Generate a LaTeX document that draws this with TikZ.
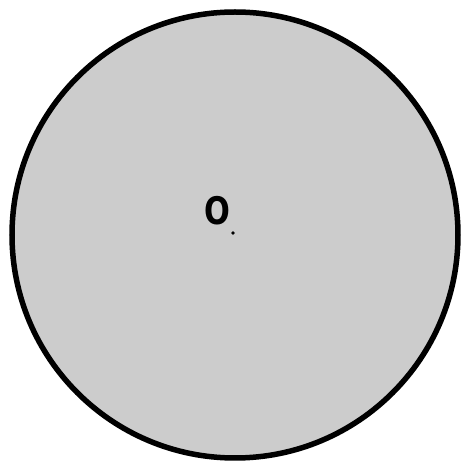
\documentclass[tikz,border=0pt]{standalone}
\usepackage{fontspec}
\setmainfont{DejaVu Sans}
\usetikzlibrary{positioning}
\definecolor{disc}{gray}{0.8}
\tikzset{centrelabel/.style={inner sep=0pt, xscale=0.8, font=\fontsize{38}{38}\selectfont\bfseries}}

\begin{document}
\begin{tikzpicture}[x=1pt,y=1pt]
    \useasboundingbox (0,0) rectangle (464,461);
    % Disc with centre O
    \coordinate (centre) at (235,226);
    \draw[line width=5.5pt, fill=disc] (centre) circle (223);
    \fill (233,228) circle (1.8);
    \node[centrelabel] (labelO) at (217,250) {\textbf{O}};
\end{tikzpicture}
\end{document}
